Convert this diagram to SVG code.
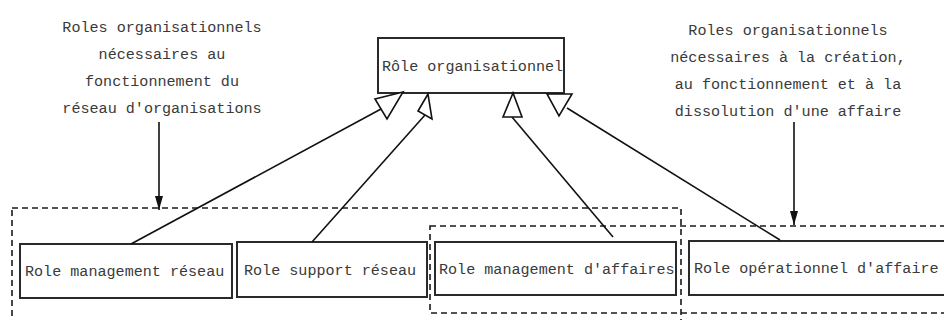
<svg xmlns="http://www.w3.org/2000/svg" width="944" height="320" viewBox="0 0 944 320">
<defs>
<style>
.t{font-family:'Liberation Mono','Courier New',monospace;font-size:15.1px;fill:#3a3a3a}
.a{text-anchor:middle}
.n{fill:#fff;stroke:#2a2a2a;stroke-width:2}
.d{fill:none;stroke:#1a1a1a;stroke-width:1.6;stroke-dasharray:6 4}
.c{fill:none;stroke:#111;stroke-width:1.6}
.h{fill:#fff;stroke:#111;stroke-width:1.6;stroke-linejoin:miter}
</style>
<marker id="fa" viewBox="0 0 14 8" refX="14" refY="4" markerWidth="14" markerHeight="8" markerUnits="userSpaceOnUse" orient="auto">
<path d="M0,0 L14,4 L0,8 Z" fill="#111"/>
</marker>
</defs>
<rect width="944" height="320" fill="#fff"/>
<g id="groups">
<rect class="d" x="12" y="208" width="669" height="130"/>
<rect class="d" x="430" y="226" width="540" height="87"/>
</g>
<g id="annot-left">
<text class="t a" x="162" y="32">Roles organisationnels</text>
<text class="t a" x="162" y="59">nécessaires au</text>
<text class="t a" x="162" y="86">fonctionnement du</text>
<text class="t a" x="162" y="113">réseau d'organisations</text>
</g>
<g id="annot-right">
<text class="t a" x="788" y="35">Roles organisationnels</text>
<text class="t a" x="788" y="62">nécessaires à la création,</text>
<text class="t a" x="788" y="89">au fonctionnement et à la</text>
<text class="t a" x="788" y="116">dissolution d'une affaire</text>
</g>
<g id="role-org">
<rect class="n" x="378" y="38" width="186" height="55"/>
<text class="t" x="382" y="71">Rôle organisationnel</text>
</g>
<g id="role-mgmt-reseau">
<rect class="n" x="20" y="244" width="212" height="54"/>
<text class="t" x="25" y="276">Role management réseau</text>
</g>
<g id="role-support-reseau">
<rect class="n" x="237" y="242" width="190" height="55"/>
<text class="t" x="244" y="275">Role support réseau</text>
</g>
<g id="role-mgmt-affaires">
<rect class="n" x="435" y="242" width="241" height="53"/>
<text class="t" x="439" y="274">Role management d'affaires</text>
</g>
<g id="role-oper-affaire">
<rect class="n" x="689" y="241" width="270" height="54"/>
<text class="t" x="694" y="273">Role opérationnel d'affaire</text>
</g>
<g id="connectors">
<line class="c" x1="159" y1="122" x2="159" y2="210" marker-end="url(#fa)"/>
<line class="c" x1="794" y1="122" x2="794" y2="225" marker-end="url(#fa)"/>
<line class="c" x1="131" y1="244" x2="381" y2="109"/>
<polygon class="h" points="403,92 375,99 387,119"/>
<line class="c" x1="312" y1="242" x2="425" y2="115"/>
<polygon class="h" points="428,94 418,111 432,119"/>
<line class="c" x1="613" y1="237" x2="512" y2="117"/>
<polygon class="h" points="513,93 503,117 522,117"/>
<line class="c" x1="780" y1="240" x2="567" y2="108"/>
<polygon class="h" points="547,94 572,94 559,116"/>
</g>
</svg>
